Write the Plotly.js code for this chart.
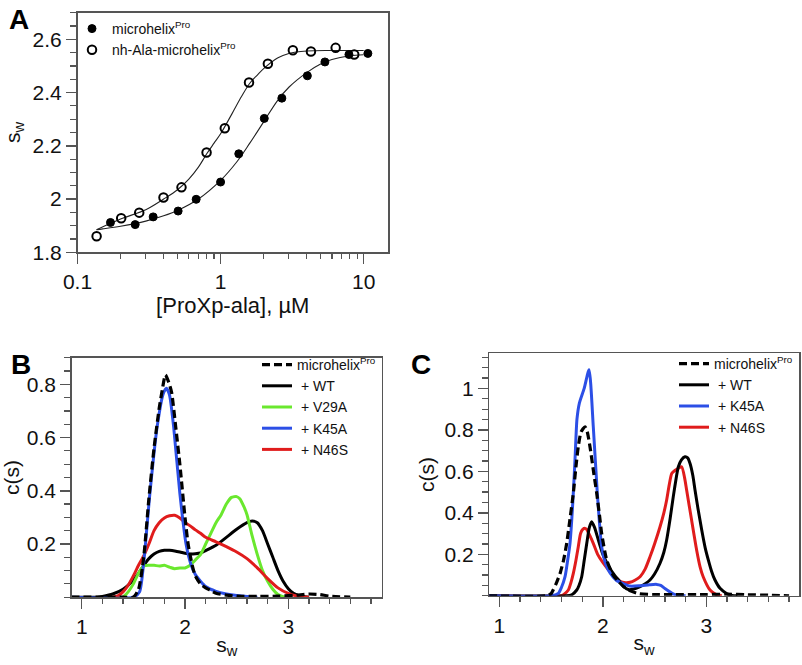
<!DOCTYPE html>
<html><head><meta charset="utf-8">
<script src="https://cdn.plot.ly/plotly-3.0.1.min.js"></script>
<style>html,body{margin:0;padding:0;background:#fff}#chart{width:802px;height:665px}</style>
</head><body><div id="chart"></div>
<script>
// ---------- Panel A: s_w vs [ProXp-ala] ----------
const aConcFilled = [0.170, 0.253, 0.338, 0.505, 0.675, 1.00, 1.34, 2.02, 2.68, 4.04, 5.36, 7.89, 10.7];
const aSwFilled   = [1.912, 1.904, 1.933, 1.955, 1.999, 2.064, 2.170, 2.303, 2.379, 2.463, 2.515, 2.543, 2.547];
const aConcOpen   = [0.136, 0.202, 0.270, 0.399, 0.533, 0.798, 1.07, 1.58, 2.14, 3.20, 4.28, 6.37, 8.59];
const aSwOpen     = [1.860, 1.928, 1.949, 2.006, 2.044, 2.175, 2.266, 2.438, 2.508, 2.559, 2.554, 2.568, 2.543];
const aFitFilledX = [0.136, 0.15, 0.2, 0.3, 0.4, 0.5, 0.7, 1.0, 1.3, 1.6, 2.0, 2.5, 3.0, 4.0, 5.0, 6.0, 8.0, 10.0];
const aFitFilledY = [1.885, 1.888, 1.898, 1.917, 1.937, 1.957, 2.0, 2.07, 2.14, 2.21, 2.29, 2.37, 2.42, 2.475, 2.507, 2.524, 2.538, 2.542];
const aFitOpenX   = [0.136, 0.2, 0.3, 0.4, 0.5, 0.6, 0.7, 0.8, 0.9, 1.0, 1.2, 1.4, 1.6, 1.8, 2.0, 2.5, 3.0, 4.0, 6.0, 10.0];
const aFitOpenY   = [1.885, 1.925, 1.96, 2.0, 2.035, 2.075, 2.12, 2.17, 2.21, 2.245, 2.32, 2.385, 2.435, 2.465, 2.49, 2.53, 2.547, 2.556, 2.558, 2.558];
const aTickVals   = [0.1, 1, 10];
const aTickText   = ['0.1', '1', '10'];
const aMinorVals  = [0.2, 0.3, 0.4, 0.5, 0.6, 0.7, 0.8, 0.9, 2, 3, 4, 5, 6, 7, 8, 9];

// ---------- Panel B: c(s) distributions ----------
const bMicroX = [0.9, 1.4, 1.5, 1.55, 1.6, 1.65, 1.7, 1.75, 1.78, 1.81, 1.84, 1.87, 1.91, 1.95, 2.0, 2.03, 2.07, 2.1, 2.15, 2.2, 2.25, 2.3, 2.4, 2.5, 2.7, 2.9, 3.1, 3.2, 3.3, 3.4, 3.6];
const bMicroY = [0, 0, 0.0, 0.03, 0.15, 0.37, 0.56, 0.71, 0.78, 0.835, 0.81, 0.77, 0.64, 0.5, 0.3, 0.2, 0.12, 0.08, 0.05, 0.035, 0.025, 0.015, 0.008, 0.004, 0.003, 0.004, 0.008, 0.012, 0.01, 0.004, 0];
const bWtX = [0.9, 1.15, 1.2, 1.3, 1.4, 1.5, 1.55, 1.6, 1.65, 1.7, 1.75, 1.8, 1.85, 1.9, 1.95, 2.0, 2.05, 2.1, 2.15, 2.2, 2.3, 2.4, 2.5, 2.6, 2.65, 2.7, 2.75, 2.8, 2.85, 2.9, 2.95, 3.0, 3.05, 3.1, 3.2];
const bWtY = [0, 0, 0.003, 0.012, 0.03, 0.065, 0.09, 0.12, 0.145, 0.162, 0.172, 0.176, 0.176, 0.174, 0.17, 0.165, 0.162, 0.163, 0.166, 0.175, 0.195, 0.225, 0.255, 0.28, 0.286, 0.28, 0.25, 0.2, 0.15, 0.1, 0.06, 0.032, 0.015, 0.007, 0];
const bV29AX = [1.4, 1.45, 1.5, 1.55, 1.6, 1.65, 1.7, 1.75, 1.8, 1.85, 1.9, 1.95, 2.0, 2.05, 2.1, 2.15, 2.2, 2.25, 2.3, 2.35, 2.4, 2.45, 2.5, 2.53, 2.57, 2.6, 2.65, 2.7, 2.75, 2.8, 2.85, 2.9, 2.95, 3.0];
const bV29AY = [0, 0.02, 0.05, 0.09, 0.117, 0.12, 0.12, 0.117, 0.12, 0.113, 0.107, 0.11, 0.11, 0.12, 0.14, 0.16, 0.2, 0.24, 0.28, 0.31, 0.35, 0.375, 0.378, 0.37, 0.34, 0.31, 0.23, 0.16, 0.1, 0.06, 0.03, 0.01, 0.002, 0];
const bK45AX = [0.9, 1.5, 1.56, 1.6, 1.66, 1.73, 1.79, 1.82, 1.85, 1.89, 1.95, 2.01, 2.06, 2.1, 2.15, 2.2, 2.3, 2.4, 2.5, 2.6, 2.7];
const bK45AY = [0, 0, 0.02, 0.13, 0.39, 0.64, 0.766, 0.785, 0.76, 0.64, 0.39, 0.2, 0.12, 0.085, 0.06, 0.04, 0.022, 0.012, 0.006, 0.003, 0];
const bN46SX = [1.3, 1.35, 1.4, 1.45, 1.5, 1.55, 1.6, 1.65, 1.7, 1.75, 1.8, 1.85, 1.9, 1.95, 2.0, 2.05, 2.1, 2.15, 2.2, 2.3, 2.4, 2.5, 2.6, 2.7, 2.8, 2.9, 3.0, 3.1, 3.2];
const bN46SY = [0, 0.005, 0.02, 0.045, 0.08, 0.12, 0.155, 0.2, 0.25, 0.28, 0.298, 0.306, 0.308, 0.298, 0.28, 0.268, 0.253, 0.24, 0.225, 0.208, 0.19, 0.17, 0.145, 0.11, 0.07, 0.035, 0.014, 0.003, 0];

// ---------- Panel C: c(s) distributions ----------
const cMicroX = [0.9, 1.45, 1.5, 1.52, 1.55, 1.587, 1.62, 1.651, 1.68, 1.715, 1.74, 1.763, 1.79, 1.828, 1.85, 1.876, 1.91, 1.941, 1.97, 1.989, 2.038, 2.1, 2.15, 2.2, 2.26, 2.35, 2.5, 2.7, 3.0, 3.2, 3.4, 3.6, 3.8];
const cMicroY = [0, 0, 0.01, 0.028, 0.06, 0.108, 0.17, 0.253, 0.36, 0.494, 0.62, 0.719, 0.79, 0.815, 0.79, 0.719, 0.6, 0.494, 0.38, 0.3, 0.172, 0.1, 0.07, 0.045, 0.025, 0.01, 0.006, 0.006, 0.006, 0.008, 0.005, 0.003, 0];
const cWtX = [0.9, 1.65, 1.7, 1.748, 1.77, 1.796, 1.82, 1.845, 1.87, 1.893, 1.92, 1.957, 2.0, 2.038, 2.07, 2.12, 2.166, 2.2, 2.246, 2.3, 2.36, 2.41, 2.456, 2.5, 2.553, 2.59, 2.617, 2.65, 2.681, 2.71, 2.73, 2.76, 2.794, 2.82, 2.843, 2.87, 2.891, 2.92, 2.956, 2.99, 3.02, 3.05, 3.084, 3.133, 3.2, 3.25, 3.3];
const cWtY = [0, 0, 0.005, 0.028, 0.05, 0.092, 0.17, 0.253, 0.33, 0.357, 0.33, 0.269, 0.2, 0.16, 0.13, 0.095, 0.068, 0.045, 0.03, 0.033, 0.044, 0.058, 0.076, 0.105, 0.157, 0.21, 0.269, 0.37, 0.478, 0.57, 0.622, 0.655, 0.67, 0.665, 0.638, 0.58, 0.51, 0.42, 0.317, 0.23, 0.172, 0.12, 0.076, 0.036, 0.01, 0.002, 0];
const cK45AX = [0.9, 1.5, 1.57, 1.6, 1.635, 1.66, 1.683, 1.71, 1.731, 1.75, 1.773, 1.82, 1.867, 1.908, 1.947, 1.989, 2.03, 2.07, 2.13, 2.2, 2.26, 2.35, 2.45, 2.52, 2.56, 2.6, 2.67, 2.72, 2.8];
const cK45AY = [0, 0, 0.012, 0.04, 0.092, 0.17, 0.253, 0.45, 0.654, 0.85, 0.928, 1.0, 1.09, 0.815, 0.494, 0.237, 0.15, 0.11, 0.075, 0.058, 0.047, 0.048, 0.053, 0.055, 0.05, 0.035, 0.012, 0.002, 0];
const cN46SX = [0.9, 1.6, 1.62, 1.667, 1.69, 1.715, 1.74, 1.763, 1.785, 1.806, 1.83, 1.845, 1.875, 1.908, 1.95, 2.005, 2.07, 2.134, 2.166, 2.22, 2.263, 2.31, 2.36, 2.41, 2.456, 2.5, 2.553, 2.59, 2.617, 2.64, 2.666, 2.7, 2.73, 2.762, 2.79, 2.81, 2.858, 2.907, 2.94, 2.97, 3.036, 3.1, 3.15];
const cN46SY = [0, 0, 0.005, 0.028, 0.06, 0.108, 0.17, 0.237, 0.3, 0.32, 0.325, 0.32, 0.29, 0.253, 0.2, 0.157, 0.116, 0.084, 0.07, 0.063, 0.065, 0.075, 0.092, 0.13, 0.188, 0.25, 0.333, 0.4, 0.462, 0.53, 0.59, 0.605, 0.615, 0.622, 0.57, 0.51, 0.365, 0.22, 0.14, 0.092, 0.028, 0.005, 0];

const legendLabels = ['microhelix<sup>Pro</sup>', '\u00a0+ WT', '\u00a0+ V29A', '\u00a0+ K45A', '\u00a0+ N46S'];
const aLegendLabels = ['microhelix<sup>Pro</sup>', 'nh-Ala-microhelix<sup>Pro</sup>'];

const FONT = 'Liberation Sans, Arial, Helvetica, sans-serif';
const AX = '#555';
const GREEN = '#6ae82e', BLUE = '#2c4fe6', RED = '#e01c1c';

function ln(x, y, color, name, xa, ya, leg, dash, rank) {
  const dashed = !!dash;
  return {x: x, y: y, type: 'scatter', mode: 'lines', name: name,
    line: {color: color, width: dashed ? 3.2 : 3, dash: dash || 'solid', shape: 'spline', smoothing: 0.6},
    xaxis: xa, yaxis: ya, legend: leg, legendrank: rank, hoverinfo: 'skip'};
}

const traces = [
  // Panel A fits
  {x: aFitFilledX, y: aFitFilledY, type: 'scatter', mode: 'lines', line: {color: '#222', width: 1.1, shape: 'spline'}, showlegend: false, xaxis: 'x', yaxis: 'y'},
  {x: aFitOpenX, y: aFitOpenY, type: 'scatter', mode: 'lines', line: {color: '#222', width: 1.1, shape: 'spline'}, showlegend: false, xaxis: 'x', yaxis: 'y'},
  {x: aConcFilled, y: aSwFilled, type: 'scatter', mode: 'markers', name: aLegendLabels[0],
    marker: {symbol: 'circle', size: 8, color: '#000', line: {color: '#000', width: 1}}, xaxis: 'x', yaxis: 'y', legend: 'legend', legendgroup: 'a1'},
  {x: aConcOpen, y: aSwOpen, type: 'scatter', mode: 'markers', name: aLegendLabels[1],
    marker: {symbol: 'circle-open', size: 8.5, color: '#000', line: {color: '#000', width: 2}}, xaxis: 'x', yaxis: 'y', legend: 'legend', legendgroup: 'a2'},
  // Panel B
  ln(bWtX, bWtY, '#000', legendLabels[1], 'x2', 'y2', 'legend2', null, 2),
  ln(bV29AX, bV29AY, GREEN, legendLabels[2], 'x2', 'y2', 'legend2', null, 3),
  ln(bN46SX, bN46SY, RED, legendLabels[4], 'x2', 'y2', 'legend2', null, 5),
  ln(bK45AX, bK45AY, BLUE, legendLabels[3], 'x2', 'y2', 'legend2', null, 4),
  ln(bMicroX, bMicroY, '#000', legendLabels[0], 'x2', 'y2', 'legend2', '8px,4px', 1),
  // Panel C
  ln(cN46SX, cN46SY, RED, legendLabels[4], 'x3', 'y3', 'legend3', null, 4),
  ln(cWtX, cWtY, '#000', legendLabels[1], 'x3', 'y3', 'legend3', null, 2),
  ln(cK45AX, cK45AY, BLUE, legendLabels[3], 'x3', 'y3', 'legend3', null, 3),
  ln(cMicroX, cMicroY, '#000', legendLabels[0], 'x3', 'y3', 'legend3', '8px,4px', 1),
];

const W = 802, H = 665;
const px = (a, b) => [a / W, b / W];
const py = (top, bottom) => [1 - bottom / H, 1 - top / H];
const TICKFONT = {family: FONT, size: 21, color: '#111'};
const TITLEFONT = {family: FONT, size: 21, color: '#111'};

function axisBase(extra) {
  return Object.assign({
    showline: true, mirror: true, linecolor: AX, linewidth: 1.5,
    ticks: 'outside', ticklen: 10, tickwidth: 1.5, tickcolor: AX,
    showgrid: false, zeroline: false, automargin: false,
    tickfont: TICKFONT,
  }, extra);
}

const layout = {
  width: W, height: H, margin: {l: 0, r: 0, t: 0, b: 0},
  paper_bgcolor: '#fff', plot_bgcolor: '#fff',
  font: {family: FONT, color: '#111'},
  xaxis: axisBase({type: 'log', domain: px(77.5, 388), range: [-1, 1.17], anchor: 'y',
    tickmode: 'array', tickvals: aTickVals, ticktext: aTickText,
    minor: {ticks: 'outside', ticklen: 5, tickwidth: 1.2, tickcolor: AX, tickmode: 'array', tickvals: aMinorVals},
    title: {text: '[ProXp-ala], µM', font: {family: FONT, size: 22, color: '#111'}, standoff: 0}}),
  yaxis: axisBase({domain: py(12.7, 252.3), range: [1.8, 2.7], anchor: 'x',
    tickmode: 'array', tickvals: [1.8, 2, 2.2, 2.4, 2.6], ticktext: ['1.8', '2', '2.2', '2.4', '2.6'],
    minor: {ticks: 'outside', ticklen: 6, tickwidth: 1.2, tickcolor: AX, dtick: 0.05, tick0: 1.8},
    title: {text: 's<sub>w</sub>', font: TITLEFONT, standoff: 6}}),
  xaxis2: axisBase({domain: px(71.7, 381.7), range: [0.903, 3.904], anchor: 'y2',
    tickmode: 'array', tickvals: [1, 2, 3],
    minor: {ticks: 'outside', ticklen: 5, tickwidth: 1.2, tickcolor: AX, dtick: 0.2, tick0: 0},
    title: {text: 's<sub>w</sub>', font: TITLEFONT, standoff: 0}}),
  yaxis2: axisBase({domain: py(357.7, 597.2), range: [0, 0.9], anchor: 'x2',
    tickmode: 'array', tickvals: [0.2, 0.4, 0.6, 0.8],
    minor: {ticks: 'outside', ticklen: 6, tickwidth: 1.2, tickcolor: AX, dtick: 0.05, tick0: 0},
    title: {text: 'c(s)', font: TITLEFONT, standoff: 4}}),
  xaxis3: axisBase({domain: px(489.3, 799), range: [0.903, 3.896], anchor: 'y3',
    tickmode: 'array', tickvals: [1, 2, 3],
    minor: {ticks: 'outside', ticklen: 5, tickwidth: 1.2, tickcolor: AX, dtick: 0.2, tick0: 0},
    title: {text: 's<sub>w</sub>', font: TITLEFONT, standoff: 0}}),
  yaxis3: axisBase({domain: py(353.3, 595.8), range: [0, 1.169], anchor: 'x3',
    tickmode: 'array', tickvals: [0.2, 0.4, 0.6, 0.8, 1], ticktext: ['0.2', '0.4', '0.6', '0.8', '1'],
    minor: {ticks: 'outside', ticklen: 6, tickwidth: 1.2, tickcolor: AX, dtick: 0.05, tick0: 0},
    title: {text: 'c(s)', font: TITLEFONT, standoff: 4}}),
  legend: {x: 72 / W, y: 1 - 13 / H, xanchor: 'left', yanchor: 'top', bgcolor: 'rgba(0,0,0,0)',
    font: {family: FONT, size: 14, color: '#111'}, tracegroupgap: 1, itemwidth: 30, traceorder: 'normal'},
  legend2: {x: 257 / W, y: 1 - 349 / H, xanchor: 'left', yanchor: 'top', bgcolor: 'rgba(0,0,0,0)',
    font: {family: FONT, size: 14, color: '#111'}, tracegroupgap: 0, itemwidth: 30},
  legend3: {x: 674 / W, y: 1 - 348 / H, xanchor: 'left', yanchor: 'top', bgcolor: 'rgba(0,0,0,0)',
    font: {family: FONT, size: 14, color: '#111'}, tracegroupgap: 0, itemwidth: 30},
  annotations: [
    {text: '<b>A</b>', x: 7 / W, y: 1 - 2 / H, xref: 'paper', yref: 'paper', xanchor: 'left', yanchor: 'top', showarrow: false, font: {family: FONT, size: 28, color: '#000'}},
    {text: '<b>B</b>', x: 9 / W, y: 1 - 347 / H, xref: 'paper', yref: 'paper', xanchor: 'left', yanchor: 'top', showarrow: false, font: {family: FONT, size: 28, color: '#000'}},
    {text: '<b>C</b>', x: 409 / W, y: 1 - 347 / H, xref: 'paper', yref: 'paper', xanchor: 'left', yanchor: 'top', showarrow: false, font: {family: FONT, size: 28, color: '#000'}},
  ],
};

Plotly.newPlot('chart', traces, layout, {staticPlot: true, displayModeBar: false});
</script></body></html>
